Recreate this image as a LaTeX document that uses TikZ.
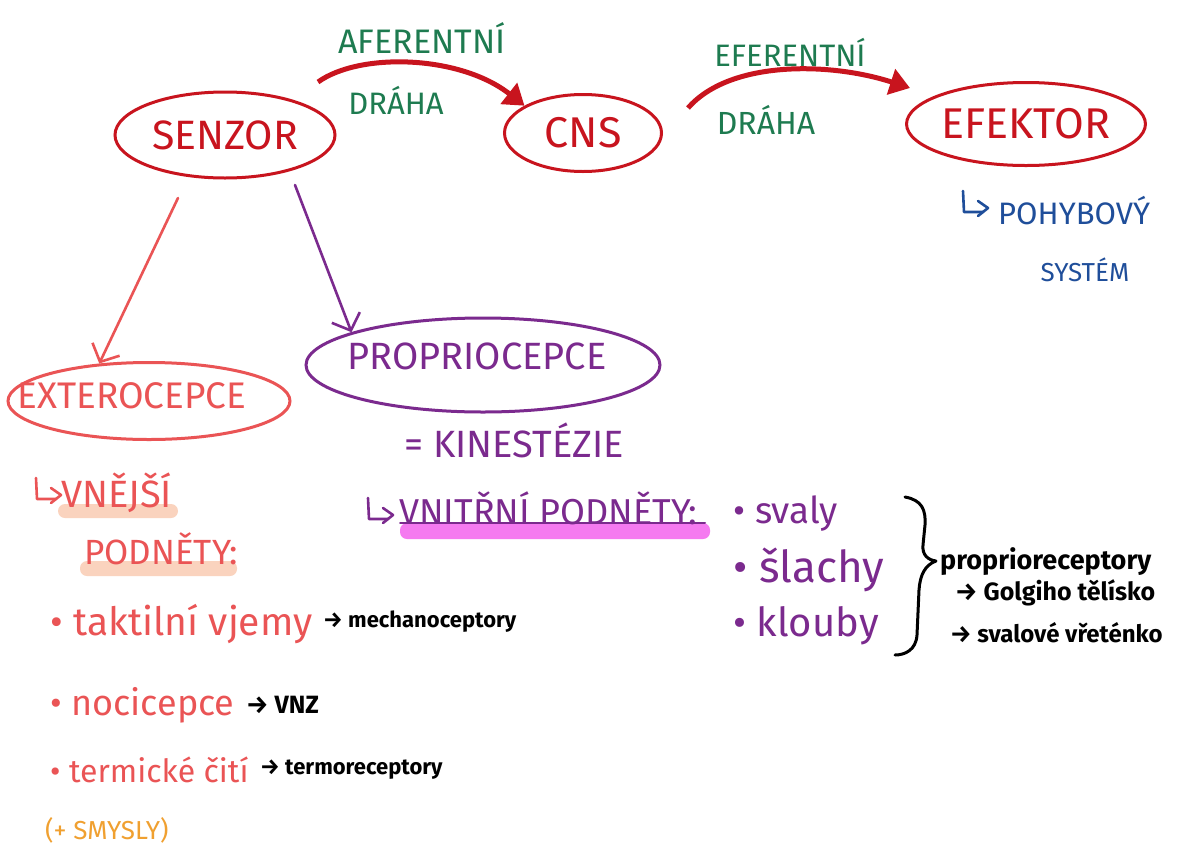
\documentclass[tikz,border=0pt]{standalone}
\usepackage{fontspec}
\setmainfont{Fira Sans}
\usetikzlibrary{shapes.geometric,arrows.meta}
\definecolor{dred}{HTML}{C8141E}
\definecolor{dgreen}{HTML}{1E7B50}
\definecolor{dblue}{HTML}{1F4E9A}
\definecolor{salmon}{HTML}{EA5455}
\definecolor{dpurple}{HTML}{7B2A8E}
\definecolor{orng}{HTML}{F0A030}
\definecolor{peach}{HTML}{FAD3BE}
\definecolor{pinkhl}{HTML}{F57AF0}
\newcommand\fs[1]{\fontsize{#1}{#1}\selectfont}
\newcommand\hooksym[2]{%
  \begin{scope}[shift={#1}]
    \draw[#2, line width=2.6pt, line cap=round, line join=round] (0,0) -- (1,21) -- (20,21);
    \draw[#2, line width=2.6pt, line cap=round, line join=round] (15,10) -- (25,17) -- (15,25);
  \end{scope}}
\begin{document}
\begin{tikzpicture}[x=1pt,y=-1pt,
  oval/.style={draw, ellipse, line width=3pt, inner sep=0pt},
  lbl/.style={inner sep=0pt, anchor=west},
  txt/.style={inner sep=0pt},
  bigarrow/.style={dred, line width=5pt, -{Triangle[length=20pt,width=26pt]}},
  thinarrow/.style={line width=2.6pt, line cap=round, -{Straight Barb[length=14pt,width=30pt]}},
  hl/.style={rounded corners=7pt}]
\useasboundingbox (0,0) rectangle (1184,847);
\fill[white] (0,0) rectangle (1184,847);

% top row ovals
\node[oval, draw=dred, text=dred, minimum width=220pt, minimum height=86pt, font=\fs{41}] (senzor) at (225,135) {SENZOR};
\node[oval, draw=dred, text=dred, minimum width=157pt, minimum height=77pt, font=\fs{43}] (cns) at (583,133) {CNS};
\node[oval, draw=dred, text=dred, minimum width=228pt, minimum height=83pt, font=\fs{43}] (efektor) at (1026,124) {EFEKTOR};

% pathway labels
\node[txt, text=dgreen, font=\fs{34}] (aff) at (422,38) {AFERENTNÍ};
\node[txt, text=dgreen, font=\fs{31}] (dr1) at (396,100) {DRÁHA};
\node[txt, text=dgreen, font=\fs{31}] (eff) at (790,52) {EFERENTNÍ};
\node[txt, text=dgreen, font=\fs{32}] (dr2) at (766,120) {DRÁHA};

\coordinate (aStart) at (318,82);
\coordinate (eStart) at (688,108);
\coordinate (eEnd) at (910,88);
\draw[bigarrow] (aStart) .. controls (360,52) and (460,55) .. (cns.155);
\draw[bigarrow] (eStart) .. controls (730,60) and (830,62) .. (eEnd);

% effector note
\hooksym{(963,191)}{dblue}
\node[lbl, text=dblue, font=\fs{31}] (pohyb) at (998,211) {POHYBOVÝ};
\node[txt, text=dblue, font=\fs{26}] (system) at (1085,270) {SYSTÉM};

% branches
\node[oval, draw=salmon, minimum width=282pt, minimum height=77pt] (extero) at (149,401) {};
\node[txt, text=salmon, font=\fs{37}] (exterot) at (132,396) {EXTEROCEPCE};
\node[oval, draw=dpurple, minimum width=354pt, minimum height=94pt] (proprio) at (483,365) {};
\node[txt, text=dpurple, font=\fs{38}] (propriot) at (477,356) {PROPRIOCEPCE};
\coordinate (sL) at (178,198);
\coordinate (sR) at (295,185);
\draw[thinarrow, salmon] (sL) -- (extero.143);
\draw[thinarrow, dpurple] (sR) -- (proprio.166);

\node[txt, text=dpurple, font=\fs{38}] (kin) at (514,440) {= KINESTÉZIE};

% external stimuli
\fill[peach, hl] (58,504) rectangle (178,518);
\fill[peach, hl] (80,561) rectangle (237,576);
\hooksym{(36,478)}{salmon}
\node[lbl, text=salmon, font=\fs{38}] (vnejsi) at (61,493) {VNĚJŠÍ};
\node[lbl, text=salmon, font=\fs{35}] (podn1) at (84,549) {PODNĚTY:};

\node[lbl, text=salmon, font=\fs{39}] (takt) at (50,624) {• taktilní vjemy};
\node[lbl, font=\bfseries\fs{22}] (mech) at (323,622) {→ mechanoceptory};
\node[lbl, text=salmon, font=\fs{36}] (noci) at (50,705) {• nocicepce};
\node[lbl, font=\bfseries\fs{25}] (vnz) at (246,705) {→ VNZ};
\node[lbl, text=salmon, font=\fs{32}] (term) at (50,770) {• termické čití};
\node[lbl, font=\bfseries\fs{22}] (termr) at (260,770) {→ termoreceptory};
\node[lbl, text=orng, font=\fs{26}] (smysly) at (45,830) {(+ SMYSLY)};

% internal stimuli
\fill[pinkhl, hl] (400,523) rectangle (710,539);
\draw[dpurple, line width=2pt, line cap=round] (400,523) -- (705,523);
\hooksym{(368,498)}{dpurple}
\node[lbl, text=dpurple, font=\fs{36}] (vnitr) at (399,508) {VNITŘNÍ PODNĚTY:};
\node[lbl, text=dpurple, font=\fs{37}] (svaly) at (733,514) {• svaly};
\node[lbl, text=dpurple, font=\fs{44}] (slachy) at (733,570) {• šlachy};
\node[lbl, text=dpurple, font=\fs{40}] (klouby) at (733,626) {• klouby};

\draw[line width=3pt, line cap=round, line join=round]
  (905,497) .. controls (922,500) and (926,510) .. (925,525) -- (923,545)
  .. controls (922,555) and (928,560) .. (936,561)
  .. controls (925,565) and (920,575) .. (919,590) -- (917,635)
  .. controls (916,650) and (905,655) .. (895,655);

\node[lbl, font=\bfseries\fs{27}] (propr) at (940,562) {proprioreceptory};
\node[lbl, font=\bfseries\fs{25}] (golgi) at (955,593) {→ Golgiho tělísko};
\node[lbl, font=\bfseries\fs{24}] (vret) at (950,633) {→ svalové vřeténko};
\end{tikzpicture}
\end{document}
